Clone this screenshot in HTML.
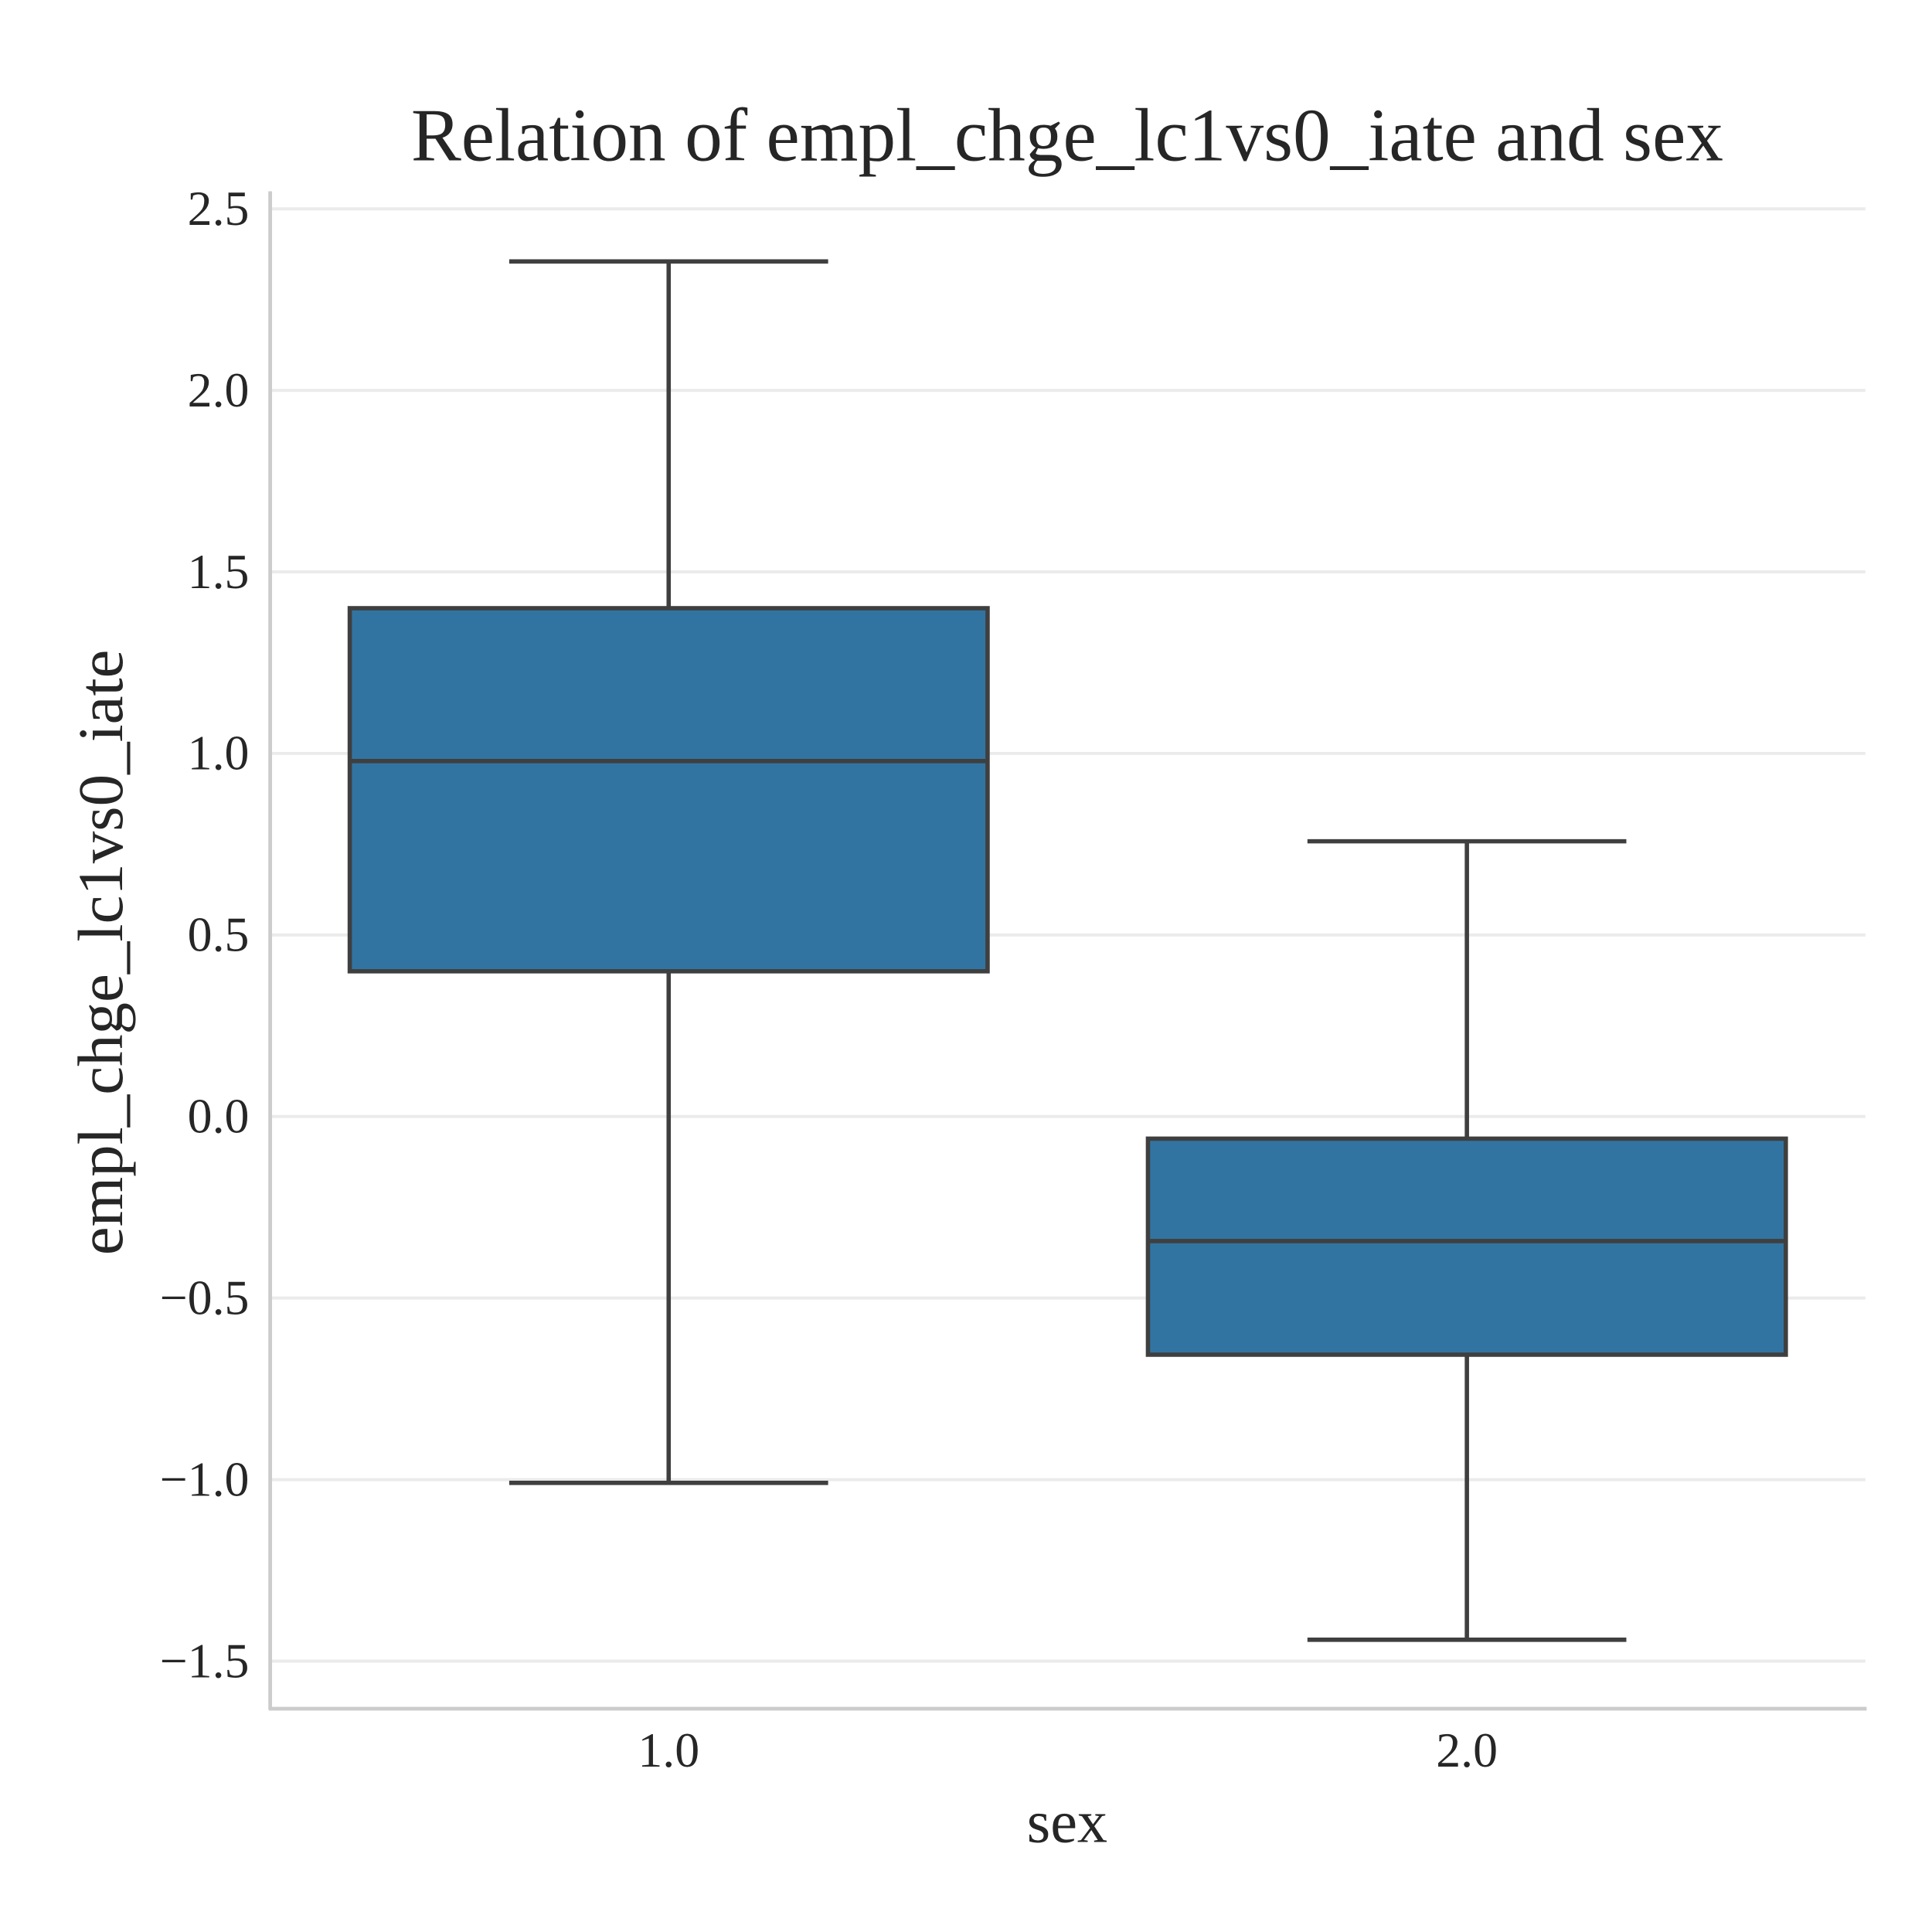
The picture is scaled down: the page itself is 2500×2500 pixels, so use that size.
<!DOCTYPE html>
<html><head><meta charset="utf-8"><style>html,body{margin:0;padding:0;background:#fff}svg{display:block}</style></head>
<body>
<svg id="chart" width="2500" height="2500" viewBox="0 0 1566 1566" xmlns="http://www.w3.org/2000/svg" font-family="'Liberation Serif', serif">
<rect width="1566" height="1566" fill="#fff"/>
<text x="865" y="130" font-size="61" text-anchor="middle" fill="#262626">Relation of empl_chge_lc1vs0_iate and sex</text>
<g id="grid"></g>
<g id="yticks"></g>
<g id="xticks"></g>
<g id="boxes"></g>
<line x1="219" y1="155" x2="219" y2="1386" stroke="#cccccc" stroke-width="3"/>
<line x1="218" y1="1385" x2="1513" y2="1385" stroke="#cccccc" stroke-width="3"/>
<text x="865" y="1493" font-size="49" text-anchor="middle" fill="#262626">sex</text>
<text transform="translate(99,772) rotate(-90)" font-size="52" text-anchor="middle" fill="#262626">empl_chge_lc1vs0_iate</text>
</svg>
<script>
const categories = ["1.0", "2.0"];
const whiskerHigh = [2.355, 0.758];
const q3 = [1.40, -0.061];
const median = [0.979, -0.343];
const q1 = [0.40, -0.656];
const whiskerLow = [-1.009, -1.441];
const yTicks = [2.5, 2.0, 1.5, 1.0, 0.5, 0.0, -0.5, -1.0, -1.5];
const yTickLabels = ["2.5", "2.0", "1.5", "1.0", "0.5", "0.0", "\u22120.5", "\u22121.0", "\u22121.5"];

const NS = "http://www.w3.org/2000/svg";
function y(v){ return 905 - v * 294.3; }
function x(i){ return 542 + i * 647; }
const boxW = 517;
function mk(tag, attrs, parent){ const e = document.createElementNS(NS, tag); for (const k in attrs) e.setAttribute(k, attrs[k]); parent.appendChild(e); return e; }
const grid = document.getElementById('grid'), yt = document.getElementById('yticks'), xt = document.getElementById('xticks'), bx = document.getElementById('boxes');
yTicks.forEach((v, i) => {
  const g = mk('line', {x1: 219, x2: 1512, y1: y(v), y2: y(v), stroke: '#ebebeb', 'stroke-width': 2.5}, grid);
  
  
  const t = mk('text', {x: 202, y: y(v) + 13, 'font-size': 40, 'text-anchor': 'end', fill: '#262626'}, yt);
  t.textContent = yTickLabels[i];
  
  
});
categories.forEach((c, i) => {
  const t = mk('text', {x: x(i), y: 1432, 'font-size': 40, 'text-anchor': 'middle', fill: '#262626'}, xt);
  t.textContent = c;
  
  
  const cx = x(i), st = {stroke: '#3f3f3f', 'stroke-width': 3.5};
  const w1 = mk('line', Object.assign({x1: cx, x2: cx, y1: y(whiskerHigh[i]), y2: y(q3[i])}, st), bx);
  
  
  const w2 = mk('line', Object.assign({x1: cx, x2: cx, y1: y(q1[i]), y2: y(whiskerLow[i])}, st), bx);
  
  
  const c1 = mk('line', Object.assign({x1: cx - boxW / 4, x2: cx + boxW / 4, y1: y(whiskerHigh[i]), y2: y(whiskerHigh[i])}, st), bx);
  
  
  const c2 = mk('line', Object.assign({x1: cx - boxW / 4, x2: cx + boxW / 4, y1: y(whiskerLow[i]), y2: y(whiskerLow[i])}, st), bx);
  
  
  const r = mk('rect', Object.assign({x: cx - boxW / 2, y: y(q3[i]), width: boxW, height: y(q1[i]) - y(q3[i]), fill: '#3274a1'}, st), bx);
  
  
  const m = mk('line', Object.assign({x1: cx - boxW / 2, x2: cx + boxW / 2, y1: y(median[i]), y2: y(median[i])}, st), bx);
  
  
});
</script>
</body></html>
